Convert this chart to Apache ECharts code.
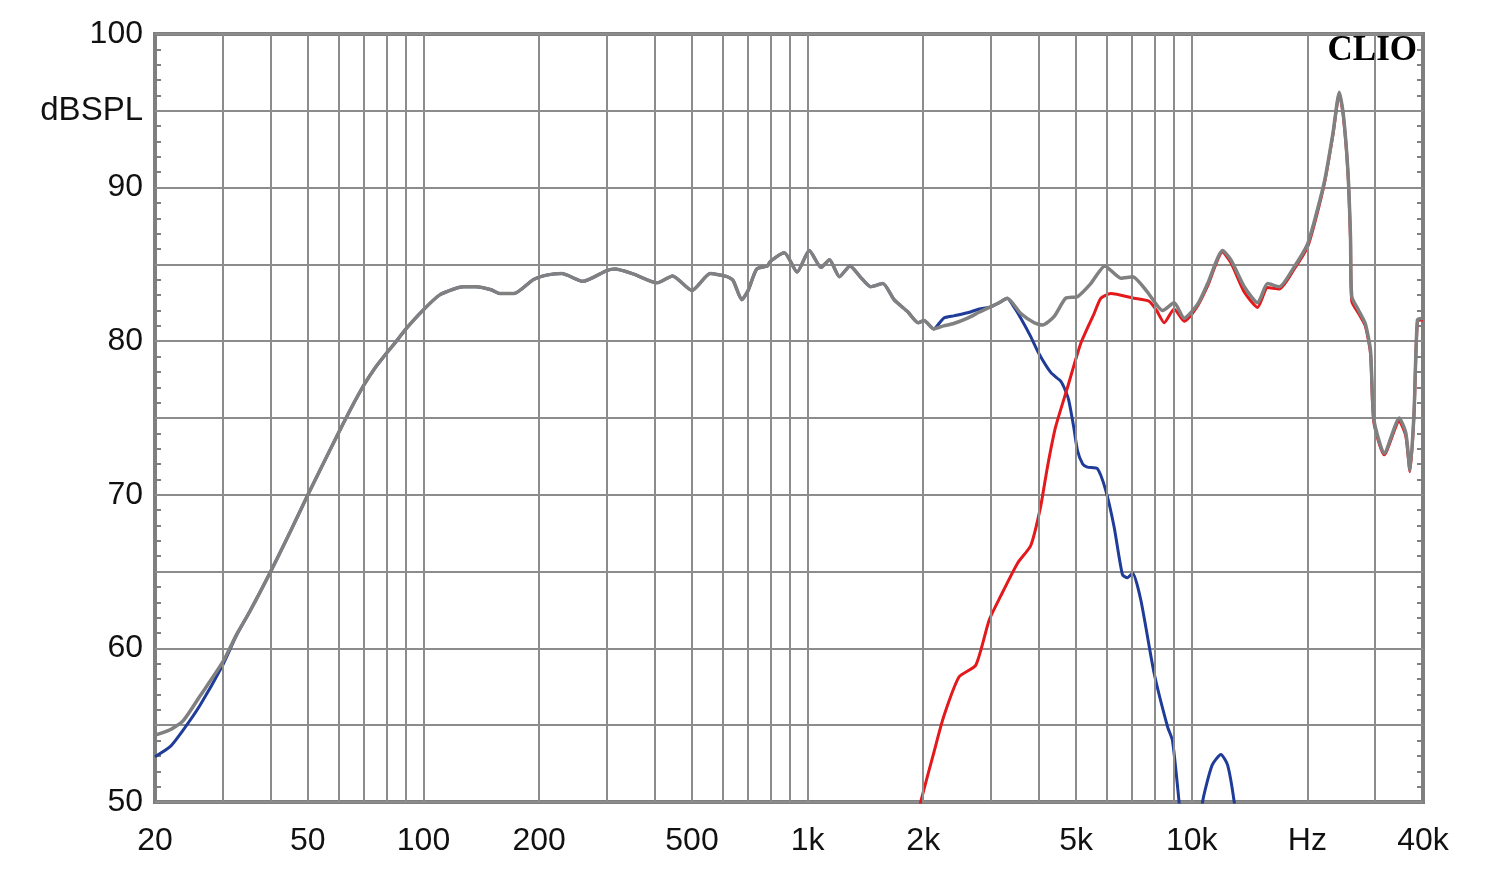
<!DOCTYPE html>
<html>
<head>
<meta charset="utf-8">
<script src="https://cdn.jsdelivr.net/npm/echarts@6/dist/echarts.min.js"></script>
<style>html,body{margin:0;padding:0;background:#fff}#c{width:1500px;height:870px}</style>
</head>
<body>
<div id="c"></div>
<script>
// ---- data (frequency in Hz, level in dB SPL) ----
var sumFreq = [20,21.9,23.7,26.2,30,32.6,35.3,40,45,50,55,60,65,70,75,80,85,90,100,110,120,127,137,150,158,172,193,209,229,260,300,315,350,406,445,500,558,617,640,674,700,737,786,800,870,939,1010,1084,1140,1210,1290,1370,1460,1570,1680,1825,1940,2010,2130,2260,2400,2610,2800,2970,3150,3310,3590,3890,4090,4380,4700,5040,5460,5940,6540,7020,7670,8400,9000,9560,10360,11000,12030,12650,13700,14840,15760,16900,18490,20000,20900,22200,23300,24220,24800,25500,25900,26100,27200,28300,29200,29800,31700,34700,36100,37000,37900,38700,40000];
var sumDb = [54.35,54.7,55.3,56.9,59.1,60.9,62.4,65.0,67.6,70.0,72.1,74.0,75.7,77.15,78.3,79.2,80.0,80.8,82.05,83.0,83.4,83.55,83.55,83.35,83.1,83.1,84.0,84.3,84.4,83.9,84.6,84.7,84.4,83.8,84.25,83.3,84.4,84.2,83.95,82.7,83.3,84.7,84.9,85.2,85.76,84.5,85.9,84.8,85.3,84.2,84.9,84.2,83.55,83.75,82.7,81.9,81.2,81.35,80.8,81.0,81.15,81.5,81.9,82.2,82.5,82.8,81.8,81.2,81.05,81.6,82.8,82.9,83.75,84.9,84.1,84.2,83.2,82.0,82.5,81.5,82.4,83.75,85.9,85.3,83.55,82.5,83.75,83.55,84.85,86.3,87.9,90.5,93.5,96.2,94.8,91.1,86.8,82.9,82.0,81.15,79.4,74.9,72.7,75.0,74.0,71.6,75.3,81.4,81.5];

var wooferFreq = [20,21.9,23.7,26.2,30,32.6,35.3,40,45,50,55,60,65,70,75,80,85,90,100,110,120,127,137,150,158,172,193,209,229,260,300,315,350,406,445,500,558,617,640,674,700,737,786,800,870,939,1010,1084,1140,1210,1290,1370,1460,1570,1680,1825,1940,2010,2130,2260,2400,2610,2800,2970,3150,3310,3450,3590,3810,4000,4300,4560,4650,4780,4930,5040,5200,5350,5680,5970,6280,6600,6800,7020,7370,7980,8650,8910,9270,9600,10300,10670,11300,11910,12400,12900,13300];
var wooferDb = [52.95,53.6,54.7,56.3,58.9,60.85,62.4,65.0,67.6,70.0,72.1,74.0,75.7,77.15,78.3,79.2,80.0,80.8,82.05,83.0,83.4,83.55,83.55,83.35,83.1,83.1,84.0,84.3,84.4,83.9,84.6,84.7,84.4,83.8,84.25,83.3,84.4,84.2,83.95,82.7,83.3,84.7,84.9,85.2,85.76,84.5,85.9,84.8,85.3,84.2,84.9,84.2,83.55,83.75,82.7,81.9,81.2,81.35,80.8,81.5,81.65,81.85,82.1,82.2,82.5,82.8,82.2,81.5,80.3,79.2,77.95,77.4,77.0,76.2,74.4,72.9,72.0,71.8,71.7,70.3,67.9,64.8,64.6,64.9,63.15,58.4,54.9,54.0,50.0,46,46,50,52.4,53.1,52.4,50,47];

var tweeterFreq = [1880,1970,2130,2260,2480,2740,2970,3180,3520,3810,4040,4210,4420,4750,5140,5570,5800,6150,7080,7740,8100,8480,9000,9560,10360,11000,12030,12650,13700,14840,15760,16900,18490,20000,20900,22200,23300,24220,24800,25500,25900,26100,27200,28300,29200,29800,31700,34700,36100,37000,37900,38700,40000];
var tweeterDb = [47.5,50,53.2,55.55,58.15,58.9,61.85,63.4,65.55,66.7,69.2,71.8,74.4,77.0,79.85,81.8,82.8,83.1,82.8,82.6,82.0,81.2,82.1,81.3,82.3,83.6,85.8,85.1,83.2,82.2,83.5,83.4,84.7,86.1,87.7,90.4,93.4,96.1,94.7,91.0,86.6,82.6,81.8,81.0,79.2,74.7,72.6,74.8,73.8,71.5,75.2,81.3,81.4];

var xLabelValues = [20,50,100,200,500,1000,2000,5000,10000,20000,40000];
var xGridValues = [30,40,50,60,70,80,90,100,200,300,400,500,600,700,800,900,1000,2000,3000,4000,5000,6000,7000,8000,9000,10000,20000,30000];

function pairs(f, d) { return f.map(function (v, i) { return [v, d[i]]; }); }
function fmtHz(v) {
  if (v === 20000) return 'Hz';
  if (v >= 1000) return (v / 1000) + 'k';
  return String(v);
}

var GRID = '#8c8c8c';
var FONT = 'Liberation Sans, Arial, sans-serif';

var chart = echarts.init(document.getElementById('c'), null, {renderer: 'canvas'});
chart.setOption({
  animation: false,
  backgroundColor: '#ffffff',
  title: {
    text: 'CLIO', right: 83, top: 33, padding: 0,
    textStyle: {fontFamily: 'Liberation Serif, serif', fontWeight: 'bold', fontSize: 35, color: '#000'}
  },
  grid: {left: 155, right: 77, top: 34, bottom: 68, show: true, borderColor: '#7f7f7f', borderWidth: 4, backgroundColor: 'transparent'},
  xAxis: {
    type: 'log', logBase: 10, min: 20, max: 40000,
    axisLine: {show: false},
    axisTick: {show: false},
    splitLine: {show: false},
    minorTick: {show: false}, minorSplitLine: {show: false},
    axisLabel: {
      customValues: xLabelValues,
      formatter: function (v) { return fmtHz(v); },
      fontSize: 32, fontFamily: FONT, color: '#111', margin: 23, showMinLabel: true, showMaxLabel: true
    }
  },
  yAxis: [{
    type: 'value', min: 50, max: 100, interval: 5, position: 'left',
    axisLine: {show: false},
    axisTick: {show: false, inside: true},
    minorTick: {show: true, splitNumber: 5, length: 6, lineStyle: {color: '#7f7f7f', width: 2}},
    splitLine: {show: true, lineStyle: {color: GRID, width: 2}},
    axisLabel: {
      formatter: function (v) { return v === 95 ? '{u|dBSPL}' : (v % 10 === 0 ? String(v) : ''); },
      fontSize: 32, fontFamily: FONT, color: '#111', margin: 12,
      rich: {u: {fontSize: 33, fontFamily: FONT, color: '#111'}}
    }
  }, {
    type: 'value', min: 50, max: 100, interval: 5, position: 'right',
    axisLine: {show: false},
    axisTick: {show: false, inside: true},
    minorTick: {show: true, splitNumber: 5, length: 6, lineStyle: {color: '#7f7f7f', width: 2}},
    splitLine: {show: false},
    axisLabel: {show: false}
  }],
  series: [{
    type: 'line', name: 'grid', z: 1, data: [[20, 50]], symbol: 'none', silent: true,
    lineStyle: {opacity: 0},
    markLine: {
      silent: true, symbol: 'none', animation: false,
      label: {show: false},
      lineStyle: {color: GRID, width: 2, type: 'solid'},
      emphasis: {disabled: true},
      data: xGridValues.map(function (v) { return {xAxis: v}; })
    }
  }, {
    type: 'line', name: 'woofer', z: 3, data: pairs(wooferFreq, wooferDb), symbol: 'none', smooth: 0.2, clip: true,
    lineStyle: {color: '#1f3c99', width: 3}
  }, {
    type: 'line', name: 'tweeter', z: 4, data: pairs(tweeterFreq, tweeterDb), symbol: 'none', smooth: 0.2, clip: true,
    lineStyle: {color: '#e3191c', width: 3}
  }, {
    type: 'line', name: 'sum', z: 5, data: pairs(sumFreq, sumDb), symbol: 'none', smooth: 0.2, clip: true,
    lineStyle: {color: '#808080', width: 3.5}
  }]
});
</script>
</body>
</html>
